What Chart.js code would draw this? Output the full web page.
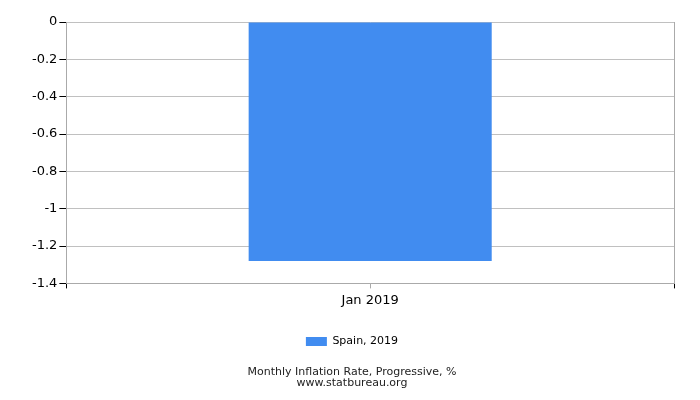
<!DOCTYPE html>
<html>
<head>
<meta charset="utf-8">
<script src="https://cdn.jsdelivr.net/npm/chart.js@4/dist/chart.umd.min.js"></script>
<style>
  html, body { margin: 0; padding: 0; background: #fff; }
  #wrap { width: 700px; height: 400px; }
</style>
</head>
<body>
<div id="wrap"><canvas id="chart"></canvas></div>
<script>
// ---------- DATA ----------
const categories = ["Jan 2019"];
const seriesName = "Spain, 2019";
const spainValues = [-1.28];
const chartTitle = ["Monthly Inflation Rate, Progressive, %", "www.statbureau.org"];

const fontFamily = "'DejaVu Sans', sans-serif";

// small gray tick under the middle of each category
const centerTicks = {
    id: "centerTicks",
    afterDraw(chart) {
        const x = chart.scales.x;
        const ctx = chart.ctx;
        ctx.save();
        ctx.strokeStyle = "#aaa";
        ctx.lineWidth = 1;
        x.ticks.forEach((t, i) => {
            const px = Math.round(x.getPixelForValue(i)) + 0.5;
            ctx.beginPath();
            ctx.moveTo(px, x.top);
            ctx.lineTo(px, x.top + 5);
            ctx.stroke();
        });
        ctx.restore();
    }
};

new Chart(document.getElementById("chart").getContext("2d"), {
    type: "bar",
    data: {
        labels: categories,
        datasets: [{
            label: seriesName,
            data: spainValues,
            backgroundColor: "#418cf0",
            borderWidth: 0,
            barPercentage: 0.4,
            categoryPercentage: 1
        }]
    },
    options: {
        responsive: true,
        maintainAspectRatio: false,
        animation: false,
        layout: { padding: { top: 22, left: 30, right: 26, bottom: 11 } },
        plugins: {
            legend: {
                position: "bottom",
                labels: {
                    color: "#000",
                    font: { family: fontFamily, size: 11 },
                    boxWidth: 21,
                    boxHeight: 9,
                    padding: 24
                }
            },
            title: {
                display: true,
                position: "bottom",
                text: chartTitle,
                color: "#222",
                font: { family: fontFamily, size: 11, weight: "normal", lineHeight: 1.0 },
                padding: { top: 10, bottom: 0 }
            },
            tooltip: { enabled: false }
        },
        scales: {
            x: {
                offset: true,
                grid: {
                    offset: true,
                    color: "#aaa",
                    tickColor: "#000",
                    tickLength: 5
                },
                border: { color: "#aaa" },
                ticks: {
                    color: "#000",
                    font: { family: fontFamily, size: 13 },
                    padding: 4
                }
            },
            y: {
                min: -1.4,
                max: 0,
                grid: {
                    color: "#c0c0c0",
                    tickColor: "#000",
                    tickLength: 7
                },
                border: { color: "#aaa" },
                ticks: {
                    stepSize: 0.2,
                    color: "#000",
                    font: { family: fontFamily, size: 13 },
                    padding: 2,
                    callback: v => String(Math.round(v * 10) / 10)
                }
            }
        }
    },
    plugins: [centerTicks]
});
</script>
</body>
</html>
